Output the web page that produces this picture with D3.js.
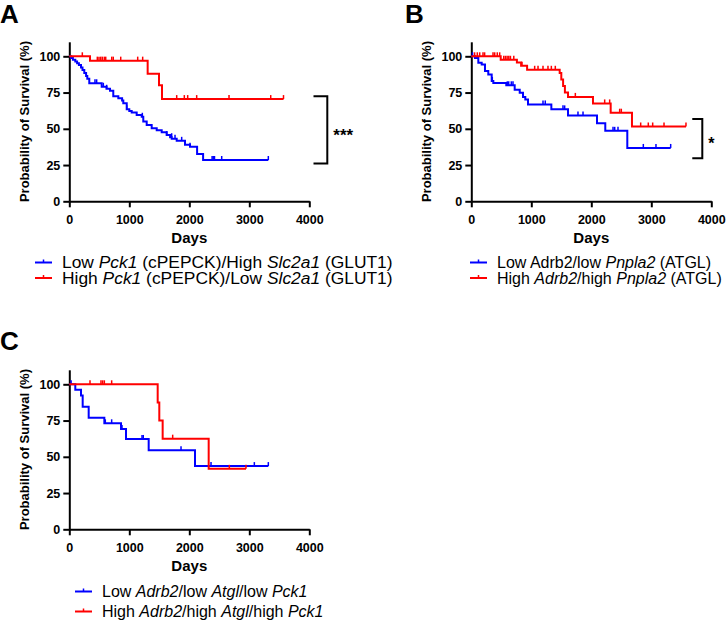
<!DOCTYPE html>
<html lang="en">
<head>
<meta charset="utf-8">
<title>Kaplan-Meier survival</title>
<script src="https://cdn.jsdelivr.net/npm/d3@7"></script>
<style>
body { margin: 0; background: #fff; }
svg { display: block; font-family: "Liberation Sans", Arial, sans-serif; }
</style>
</head>
<body>
<script>
// ticks shared by all panels
var dayTicks = [0, 1000, 2000, 3000, 4000];
var survTicks = [0, 25, 50, 75, 100];

// Panel A: [day, survival %] after each drop, last follow-up day, censored days
var aLowSteps = [[0,100],[30,98.8],[60,97.6],[100,96.4],[130,95.2],[160,94],[195,92.2],[220,90.5],[250,88.5],[280,86.5],[300,84.5],[333,81.4],[540,79],[620,77.6],[678,76.2],[733,72.5],[817,71],[880,69.5],[900,67.6],[957,63.5],[1000,62.3],[1040,61.3],[1123,59.5],[1207,58.3],[1233,55],[1290,52.6],[1373,50.3],[1457,49],[1540,47.6],[1623,45.7],[1680,44.2],[1707,43.2],[1790,41.7],[1928,39],[2012,37.7],[2130,32.6],[2230,28.5]];
var aLowEnd = 3317;
var aLowCensor = [428, 456, 567, 623, 957, 1217, 1623, 1706, 1762, 1873, 2012, 2380, 2400, 2420, 2540];
var aHighSteps = [[0,100],[345,97],[1306,88],[1495,80],[1545,70.5]];
var aHighEnd = 3570;
var aHighCensor = [217, 467, 495, 523, 550, 583, 607, 707, 733, 857, 1140, 1223, 1790, 1917, 1973, 2123, 2662, 3357];

// Panel B
var bLowSteps = [[0,100],[62,98.9],[117,95.5],[173,94.3],[228,89.8],[283,87.5],[340,83],[367,81.6],[583,80],[723,77],[807,74.8],[862,72],[900,70.2],[945,66.8],[1334,63.4],[1612,59.1],[2095,53.9],[2233,48.6],[2600,36.8]];
var bLowEnd = 3323;
var bLowCensor = [20, 350, 600, 623, 667, 695, 1195, 1233, 1528, 1556, 1778, 1862, 2362, 2390, 2445, 2867, 3078];
var bHighSteps = [[0,100],[490,97.6],[760,95.8],[830,93.5],[930,90.7],[1473,88.5],[1500,84],[1530,79.5],[1560,75],[1612,72],[2028,67.5],[2323,61.1],[2678,51.6]];
var bHighEnd = 3578;
var bHighCensor = [55, 100, 140, 195, 222, 362, 390, 433, 473, 541, 569, 597, 625, 652, 708, 845, 1056, 1112, 1195, 1278, 1334, 1400, 1734, 2223, 2306, 2473, 2500, 2823, 2950, 3023, 3212];

// Panel C
var cLowSteps = [[0,100],[100,96.2],[195,92.3],[223,84.6],[323,76.9],[584,73.1],[862,69.2],[945,62.3],[1323,54.5],[2095,43.6]];
var cLowEnd = 3317;
var cLowCensor = [30, 600, 706, 878, 1212, 1233, 1862, 2362, 3084];
var cHighSteps = [[0,100],[1473,87.5],[1500,75],[1556,62.5],[2323,41.7]];
var cHighEnd = 2945;
var cHighCensor = [345, 528, 556, 584, 706, 1723, 2667];

var blue = "#0000ff", red = "#ff0000";

var svg = d3.select("body").append("svg")
	.attr("width", 726)
	.attr("height", 620);

function levelAt(steps, day) {
	var v = steps[0][1];
	for (var i = 0; i < steps.length; i++) {
		if (steps[i][0] <= day) v = steps[i][1];
	}
	return v;
}

function drawPanel(o) {
	var g = svg.append("g");
	var x = d3.scaleLinear().domain([0, 4000]).range([o.left, o.left + 240]);
	var y = d3.scaleLinear().domain([0, 110]).range([o.bottom, o.bottom - 159.5]);

	// panel letter
	g.append("text")
		.attr("x", o.labelX).attr("y", o.labelY)
		.attr("font-size", 26).attr("font-weight", "bold")
		.text(o.label);

	var yAxis = g.append("g")
		.attr("transform", "translate(" + o.left + ",0)")
		.call(d3.axisLeft(y).tickValues(survTicks).tickSize(6).tickPadding(3).tickSizeOuter(0));
	var xAxis = g.append("g")
		.attr("transform", "translate(0," + o.bottom + ")")
		.call(d3.axisBottom(x).tickValues(dayTicks).tickFormat(d3.format("d")).tickSize(6).tickPadding(8).tickSizeOuter(0));
	[yAxis, xAxis].forEach(function(a) {
		a.attr("font-family", null).attr("font-size", null);
		a.select(".domain").attr("stroke", "#000").attr("stroke-width", 2);
		a.selectAll(".tick line").attr("stroke", "#000").attr("stroke-width", 2);
		a.selectAll(".tick text").attr("fill", "#000").attr("font-size", 12.5).attr("font-weight", "bold");
	});

	// axis titles
	g.append("text")
		.attr("x", (x(0) + x(4000)) / 2).attr("y", o.bottom + 42)
		.attr("text-anchor", "middle")
		.attr("font-size", 15).attr("font-weight", "bold")
		.text("Days");
	g.append("text")
		.attr("transform", "translate(" + (o.left - 40) + "," + y(55) + ") rotate(-90)")
		.attr("text-anchor", "middle")
		.attr("font-size", 13).attr("font-weight", "bold")
		.text("Probability of Survival (%)");

	// survival curves
	var line = d3.line()
		.x(function(d) { return x(d[0]); })
		.y(function(d) { return y(d[1]); })
		.curve(d3.curveStepAfter);
	o.series.forEach(function(s) {
		var pts = s.steps.concat([[s.end, s.steps[s.steps.length - 1][1]]]);
		g.append("path")
			.attr("d", line(pts))
			.attr("fill", "none")
			.attr("stroke", s.color)
			.attr("stroke-width", 2);
		g.selectAll(null)
			.data(s.censor.concat([s.end]))
			.enter()
			.append("line")
			.attr("x1", function(d) { return x(d); })
			.attr("x2", function(d) { return x(d); })
			.attr("y1", function(d) { return y(levelAt(s.steps, d)); })
			.attr("y2", function(d) { return y(levelAt(s.steps, d)) - 4; })
			.attr("stroke", s.color)
			.attr("stroke-width", 1.5);
	});

	// significance bracket
	if (o.bracket) {
		var b = o.bracket;
		g.append("path")
			.attr("d", "M" + x(b.arm) + "," + y(b.top) + "H" + x(b.x) + "V" + y(b.bottom) + "H" + x(b.arm))
			.attr("fill", "none")
			.attr("stroke", "#000")
			.attr("stroke-width", 2);
		g.append("text")
			.attr("x", x(b.x) + 6).attr("y", y((b.top + b.bottom) / 2) + b.dy)
			.attr("font-size", b.size).attr("font-weight", "bold")
			.text(b.stars);
	}

	// legend
	o.legend.forEach(function(row, i) {
		var ly = o.legendY + i * o.legendGap;
		g.append("line")
			.attr("x1", o.legendX).attr("x2", o.legendX + 17)
			.attr("y1", ly - 5.5).attr("y2", ly - 5.5)
			.attr("stroke", o.series[i].color).attr("stroke-width", 2);
		g.append("line")
			.attr("x1", o.legendX + 8.5).attr("x2", o.legendX + 8.5)
			.attr("y1", ly - 5.5).attr("y2", ly - 8.5)
			.attr("stroke", o.series[i].color).attr("stroke-width", 1.5);
		var t = g.append("text")
			.attr("x", o.legendX + 27).attr("y", ly)
			.attr("font-size", o.legendSize);
		row.forEach(function(p) {
			t.append("tspan")
				.attr("font-style", p[1] ? "italic" : "normal")
				.text(p[0]);
		});
	});
}

drawPanel({
	label: "A", labelX: 0, labelY: 23,
	left: 69.3, bottom: 201.3,
	series: [
		{ steps: aLowSteps, end: aLowEnd, censor: aLowCensor, color: blue },
		{ steps: aHighSteps, end: aHighEnd, censor: aHighCensor, color: red }
	],
	bracket: { x: 4300, arm: 4070, top: 72.5, bottom: 26, stars: "***", size: 17, dy: 11 },
	legendX: 35, legendY: 268, legendGap: 15.5, legendSize: 17.4,
	legend: [
		[["Low ", 0], ["Pck1", 1], [" (cPEPCK)/High ", 0], ["Slc2a1", 1], [" (GLUT1)", 0]],
		[["High ", 0], ["Pck1", 1], [" (cPEPCK)/Low ", 0], ["Slc2a1", 1], [" (GLUT1)", 0]]
	]
});

drawPanel({
	label: "B", labelX: 405, labelY: 23,
	left: 471.3, bottom: 201.3,
	series: [
		{ steps: bLowSteps, end: bLowEnd, censor: bLowCensor, color: blue },
		{ steps: bHighSteps, end: bHighEnd, censor: bHighCensor, color: red }
	],
	bracket: { x: 3850, arm: 3683, top: 56.8, bottom: 29.7, stars: "*", size: 16, dy: 10 },
	legendX: 470, legendY: 268, legendGap: 15.5, legendSize: 16,
	legend: [
		[["Low Adrb2/low ", 0], ["Pnpla2", 1], [" (ATGL)", 0]],
		[["High ", 0], ["Adrb2", 1], ["/high ", 0], ["Pnpla2", 1], [" (ATGL)", 0]]
	]
});

drawPanel({
	label: "C", labelX: 0, labelY: 350,
	left: 69.3, bottom: 529.3,
	series: [
		{ steps: cLowSteps, end: cLowEnd, censor: cLowCensor, color: blue },
		{ steps: cHighSteps, end: cHighEnd, censor: cHighCensor, color: red }
	],
	bracket: null,
	legendX: 75, legendY: 597, legendGap: 20, legendSize: 16,
	legend: [
		[["Low ", 0], ["Adrb2", 1], ["/low ", 0], ["Atgl", 1], ["/low ", 0], ["Pck1", 1]],
		[["High ", 0], ["Adrb2", 1], ["/high ", 0], ["Atgl", 1], ["/high ", 0], ["Pck1", 1]]
	]
});
</script>
</body>
</html>
